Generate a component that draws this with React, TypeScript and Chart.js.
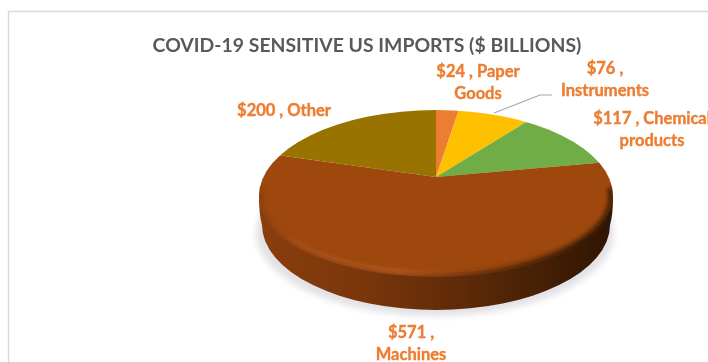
import React, { useEffect, useRef } from "react";
import { Chart, registerables } from "chart.js";

Chart.register(...registerables);

const categories = ["Paper Goods", "Instruments", "Chemical products", "Machines", "Other"];
const values = [24, 76, 117, 571, 200];
const colors = ["#ed7d31", "#ffc000", "#70ad47", "#9e480e", "#997300"];
const titleText = "COVID-19 SENSITIVE US IMPORTS ($ BILLIONS)";

const labelLines: string[][] = [
  [`$${values[0]} , Paper`, "Goods"],
  [`$${values[1]} ,`, "Instruments"],
  [`$${values[2]} , Chemical`, "products"],
  [`$${values[3]} ,`, "Machines"],
  [`$${values[4]} , Other`],
];
const labelPos = [
  { x: 478, y: 72 },
  { x: 605, y: 69 },
  { x: 652, y: 119 },
  { x: 411, y: 333 },
  { x: 284, y: 111 },
];

const CX = 436, CY = 196, RX = 177, RY_TOP = 86, RY_BOTTOM = 77;
const HUBY = 177;

function silhouette(ctx: CanvasRenderingContext2D, bottomY: number, bottomRy: number) {
  ctx.beginPath();
  ctx.ellipse(CX, CY, RX, RY_TOP, 0, Math.PI, Math.PI * 2);
  ctx.ellipse(CX, bottomY, RX, bottomRy, 0, 0, Math.PI);
  ctx.closePath();
}

const framePlugin = {
  id: "frame",
  beforeDraw(chart: any) {
    const ctx = chart.ctx as CanvasRenderingContext2D;
    ctx.save();
    ctx.strokeStyle = "#d9d9d9";
    ctx.lineWidth = 1.5;
    ctx.strokeRect(8.5, 11.5, 720, 400);
    ctx.restore();
  },
};

const pie3dPlugin = {
  id: "pie3d",
  beforeDatasetsDraw(chart: any) {
    const ctx = chart.ctx as CanvasRenderingContext2D;
    const arc = chart.getDatasetMeta(0).data[0] as any;

    // soft floor shadow
    ctx.save();
    ctx.filter = "blur(3px)";
    ctx.fillStyle = "#e2e2e6";
    ctx.beginPath();
    ctx.ellipse(CX - 1, 233, 179, 83, 0, 0, Math.PI * 2);
    ctx.fill();
    ctx.restore();

    // side wall
    const wall = ctx.createLinearGradient(CX - RX, 0, CX + RX, 0);
    wall.addColorStop(0, "#8a3e0c");
    wall.addColorStop(0.3, "#79360b");
    wall.addColorStop(0.6, "#5c2907");
    wall.addColorStop(0.85, "#3f1d05");
    wall.addColorStop(1, "#2e1503");
    ctx.save();
    ctx.fillStyle = wall;
    ctx.beginPath();
    ctx.moveTo(CX - RX, CY);
    ctx.quadraticCurveTo(CX - RX, 215, CX - RX + 3, 225);
    ctx.ellipse(CX, 225, RX - 3, 85, 0, Math.PI, 0, true);
    ctx.quadraticCurveTo(CX + RX, 215, CX + RX, CY);
    ctx.closePath();
    ctx.fill();
    ctx.restore();

    // top face: library arcs, tilted about the hub and cut by the rim
    ctx.save();
    silhouette(ctx, CY, RY_BOTTOM);
    ctx.clip();
    const s = 240 / arc.outerRadius;
    ctx.translate(CX, HUBY);
    ctx.scale(s, s * 0.45);
    ctx.translate(-arc.x, -arc.y);
  },
  afterDatasetsDraw(chart: any) {
    const ctx = chart.ctx as CanvasRenderingContext2D;
    ctx.restore();

    // bevel along the lower rim, kept inside the disc
    const rim = ctx.createLinearGradient(CX - RX, 0, CX + RX, 0);
    rim.addColorStop(0, "#8a3e0c");
    rim.addColorStop(0.12, "#a9501a");
    rim.addColorStop(0.4, "#b55a20");
    rim.addColorStop(0.65, "#803b0e");
    rim.addColorStop(0.9, "#4a2206");
    rim.addColorStop(1, "#3a1b04");
    ctx.save();
    silhouette(ctx, CY + 4, RY_BOTTOM);
    ctx.clip();
    ctx.filter = "blur(2px)";
    ctx.strokeStyle = rim;
    ctx.lineWidth = 5;
    ctx.beginPath();
    ctx.ellipse(CX, CY + 1, RX - 2, RY_BOTTOM, 0, -0.12, Math.PI + 0.12);
    ctx.stroke();
    ctx.restore();

    // leader line
    ctx.save();
    ctx.strokeStyle = "#a6a6a6";
    ctx.lineWidth = 1.2;
    ctx.beginPath();
    ctx.moveTo(494, 113);
    ctx.lineTo(540, 95);
    ctx.lineTo(552, 95);
    ctx.stroke();
    ctx.restore();

    // data labels
    ctx.save();
    ctx.fillStyle = "#ed7d31";
    ctx.strokeStyle = "#ed7d31";
    ctx.lineWidth = 0.4;
    ctx.font = "bold 16.5px Lato";
    ctx.textAlign = "center";
    ctx.textBaseline = "middle";
    labelLines.forEach((lines, i) => {
      lines.forEach((line, j) => {
        const y = labelPos[i].y + j * 22;
        ctx.fillText(line, labelPos[i].x, y);
        ctx.strokeText(line, labelPos[i].x, y);
      });
    });
    ctx.restore();
  },
};

export default function App() {
  const ref = useRef<HTMLCanvasElement>(null);
  useEffect(() => {
    const chart = new Chart(ref.current!, {
      type: "pie",
      data: {
        labels: categories,
        datasets: [
          {
            data: values,
            backgroundColor: colors,
            borderWidth: 0,
            clip: false,
          } as any,
        ],
      },
      options: {
        responsive: false,
        animation: false,
        layout: { padding: { left: 26, right: 0, top: 34, bottom: 0 } },
        plugins: {
          legend: { display: false },
          tooltip: { enabled: false },
          title: {
            display: true,
            text: titleText,
            color: "#595959",
            font: { family: "Lato", size: 19.4, weight: "bold" },
            padding: 0,
          },
        },
      },
      plugins: [framePlugin, pie3dPlugin],
    });
    return () => chart.destroy();
  }, []);
  return (
    <canvas
      ref={ref}
      width={708}
      height={362}
      style={{ position: "absolute", left: 0, top: 0, width: 708, height: 362 }}
    />
  );
}
